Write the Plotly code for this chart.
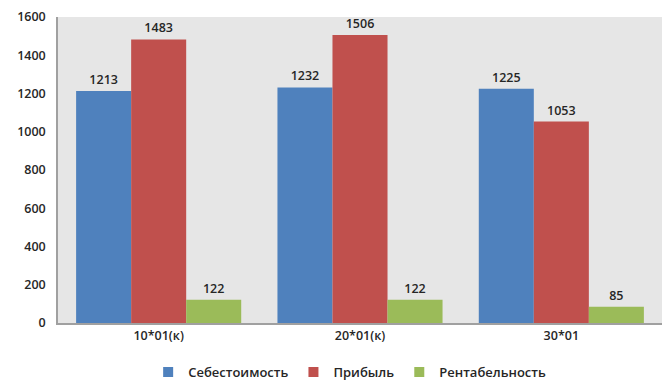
import plotly.graph_objects as go

categories = ["10*01(к)", "20*01(к)", "30*01"]
sebest = [1213, 1232, 1225]
pribyl = [1483, 1506, 1053]
rentab = [122, 122, 85]
series_names = ["Себестоимость", "Прибыль", "Рентабельность"]
colors = ["#4f81bd", "#c0504d", "#9bbb59"]
y_ticks = [0, 200, 400, 600, 800, 1000, 1200, 1400, 1600]

tf = dict(family="Open Sans, sans-serif", size=12.5, color="#262626", weight=600)

fig = go.Figure()
for name, vals, col in zip(series_names, [sebest, pribyl, rentab], colors):
    fig.add_trace(go.Bar(
        x=categories, y=vals, name=name, marker=dict(color=col, line=dict(width=0)),
        text=[str(v) for v in vals], textposition="outside",
        textfont=tf, cliponaxis=False, showlegend=False,
    ))
# legend entries with small square markers
for name, col in zip(series_names, colors):
    fig.add_trace(go.Scatter(
        x=[None], y=[None], mode="markers", name=name,
        marker=dict(symbol="square", size=10, color=col), showlegend=True,
    ))

fig.update_layout(
    width=666, height=388,
    margin=dict(l=58, r=4, t=17, b=65, autoexpand=False),
    paper_bgcolor="white", plot_bgcolor="#e6e6e6",
    barmode="group", bargap=0.18, bargroupgap=0,
    font=tf,
    showlegend=True,
    legend=dict(orientation="h", x=0.525, xanchor="center", xref="container",
                y=1/388, yanchor="bottom", yref="container",
                font=dict(family="Open Sans, sans-serif", size=13, color="#262626", weight=600),
                itemwidth=30, traceorder="normal", tracegroupgap=0,
                bgcolor="rgba(0,0,0,0)"),
)
fig.update_xaxes(showline=True, linecolor="#a0a0a0", linewidth=1.5, ticks="",
                 tickfont=tf)
fig.update_yaxes(range=[0, 1600], tickvals=y_ticks, showgrid=False, showline=True,
                 linecolor="#a0a0a0", linewidth=1.5, zeroline=False, ticks="",
                 ticklabelstandoff=8, tickfont=tf)

fig.write_html("out.html")
